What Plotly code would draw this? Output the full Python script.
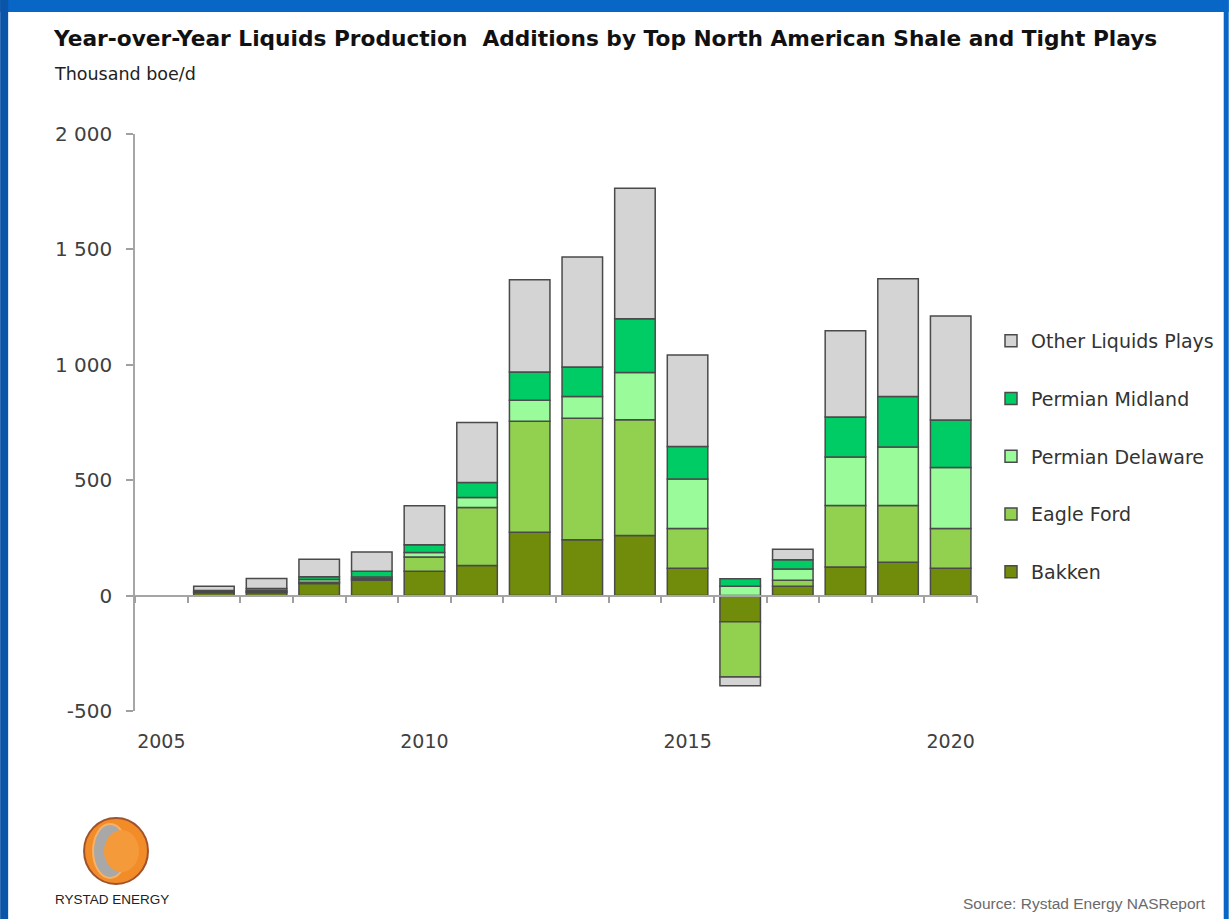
import plotly.graph_objects as go

years = [2006, 2007, 2008, 2009, 2010, 2011, 2012, 2013, 2014, 2015, 2016, 2017, 2018, 2019, 2020]
bakken = [12, 12, 52, 66, 105, 130, 274, 242, 260, 118, -113, 40, 124, 144, 118]
eagle_ford = [3, 5, 6, 7, 62, 252, 481, 526, 502, 173, -240, 26, 266, 246, 173]
permian_delaware = [3, 4, 12, 8, 20, 43, 91, 95, 205, 214, 40, 49, 211, 254, 264]
permian_midland = [4, 10, 12, 24, 33, 65, 123, 128, 232, 141, 33, 40, 173, 219, 206]
other_plays = [18, 43, 75, 84, 169, 260, 400, 476, 566, 397, -38, 46, 374, 510, 450]

series_names = ["Bakken", "Eagle Ford", "Permian Delaware", "Permian Midland", "Other Liquids Plays"]
series_values = [bakken, eagle_ford, permian_delaware, permian_midland, other_plays]
series_colors = ["#718b0b", "#92d050", "#99fb99", "#00cc66", "#d4d4d4"]

x_tick_years = [2005, 2010, 2015, 2020]
y_tick_vals = [-500, 0, 500, 1000, 1500, 2000]
y_tick_text = ["-500", "0", "500", "1 000", "1 500", "2 000"]
slot_edges = [y - 0.5 for y in range(2005, 2022)]

W, H = 1230, 919
L, R, T, B = 135, 978, 134, 711


def px_x(p):
    return (p - L) / (R - L)


def px_y(p):
    return (B - p) / (B - T)


fig = go.Figure()
n = len(series_names)
for i, (name, vals, col) in enumerate(zip(series_names, series_values, series_colors)):
    fig.add_trace(go.Bar(
        x=years, y=vals, name=name, legendgroup=name, legendrank=n - i,
        marker=dict(color=col, line=dict(color="#4a4a4a", width=1.5)),
        width=0.77,
    ))

# invisible helper trace so that the zero-crossing axis is drawn
fig.add_trace(go.Scatter(x=years, y=[None] * len(years), xaxis="x2", yaxis="y",
                         showlegend=False, hoverinfo="skip", mode="markers"))

shapes = []
# slide frame
shapes.append(dict(type="rect", xref="paper", yref="paper", x0=px_x(0), x1=px_x(W), y0=px_y(12), y1=px_y(0),
                   fillcolor="#0866c6", line=dict(width=0), layer="below"))
shapes.append(dict(type="rect", xref="paper", yref="paper", x0=px_x(0), x1=px_x(8), y0=px_y(H), y1=px_y(0),
                   fillcolor="#0a55a8", line=dict(width=0), layer="below"))
shapes.append(dict(type="rect", xref="paper", yref="paper", x0=px_x(1225), x1=px_x(W), y0=px_y(H), y1=px_y(0),
                   fillcolor="#0866c6", line=dict(width=0), layer="below"))
# logo globe
shapes.append(dict(type="circle", xref="paper", yref="paper", x0=px_x(84), x1=px_x(148), y0=px_y(884), y1=px_y(818),
                   fillcolor="#f28c28", line=dict(color="#a0522d", width=2)))
shapes.append(dict(type="circle", xref="paper", yref="paper", x0=px_x(93), x1=px_x(127), y0=px_y(878), y1=px_y(824),
                   fillcolor="#a8a8a8", line=dict(color="#f7b267", width=2)))
shapes.append(dict(type="circle", xref="paper", yref="paper", x0=px_x(104), x1=px_x(139), y0=px_y(872), y1=px_y(830),
                   fillcolor="#f59a3a", line=dict(width=0)))

annotations = [
    dict(text="<b>Year-over-Year Liquids Production  Additions by Top North American Shale and Tight Plays</b>",
         xref="paper", yref="paper", x=px_x(51), y=px_y(38), xanchor="left", yanchor="middle", showarrow=False,
         font=dict(family="DejaVu Sans", size=21.7, color="#111111")),
    dict(text="Thousand boe/d", xref="paper", yref="paper", x=px_x(52), y=px_y(74), xanchor="left",
         yanchor="middle", showarrow=False, font=dict(family="DejaVu Sans", size=17.5, color="#222222")),
    dict(text="Source: Rystad Energy NASReport", xref="paper", yref="paper", x=px_x(1209), y=px_y(903),
         xanchor="right", yanchor="middle", showarrow=False,
         font=dict(family="Liberation Sans", size=15.5, color="#6a6a6a")),
    dict(text="RYSTAD ENERGY", xref="paper", yref="paper", x=px_x(112), y=px_y(900), xanchor="center",
         yanchor="middle", showarrow=False, font=dict(family="Liberation Sans", size=13.5, color="#222222")),
]

fig.update_layout(
    width=W, height=H, autosize=False,
    margin=dict(l=L, r=W - R, t=T, b=H - B, pad=0),
    paper_bgcolor="white", plot_bgcolor="white",
    barmode="relative",
    showlegend=True,
    legend=dict(x=px_x(991), y=px_y(322), xanchor="left", yanchor="top",
                traceorder="grouped", tracegroupgap=30,
                font=dict(family="DejaVu Sans", size=19, color="#333333"),
                bgcolor="rgba(0,0,0,0)", itemwidth=30),
    xaxis=dict(range=[2004.5, 2020.5], tickvals=x_tick_years, ticks="outside", ticklen=13,
               tickcolor="rgba(0,0,0,0)", showline=False, showgrid=False, zeroline=False,
               tickfont=dict(family="DejaVu Sans", size=19, color="#404040"), fixedrange=True),
    xaxis2=dict(range=[2004.5, 2020.5], overlaying="x", anchor="free", position=0.2,
                tickvals=slot_edges, ticks="outside", ticklen=7, tickcolor="#a0a0a0", tickwidth=1.5,
                showline=True, linecolor="#a6a6a6", linewidth=1.5, showticklabels=False,
                showgrid=False, zeroline=False),
    yaxis=dict(range=[-500, 2000], tickvals=y_tick_vals, ticktext=y_tick_text, ticks="outside", ticklen=7,
               tickcolor="#a0a0a0", tickwidth=1.5, showline=True, linecolor="#a6a6a6", linewidth=1.5,
               showgrid=False, zeroline=False, ticklabelstandoff=10,
               tickfont=dict(family="DejaVu Sans", size=20, color="#404040")),
    shapes=shapes,
    annotations=annotations,
)

fig.write_html("out.html")
